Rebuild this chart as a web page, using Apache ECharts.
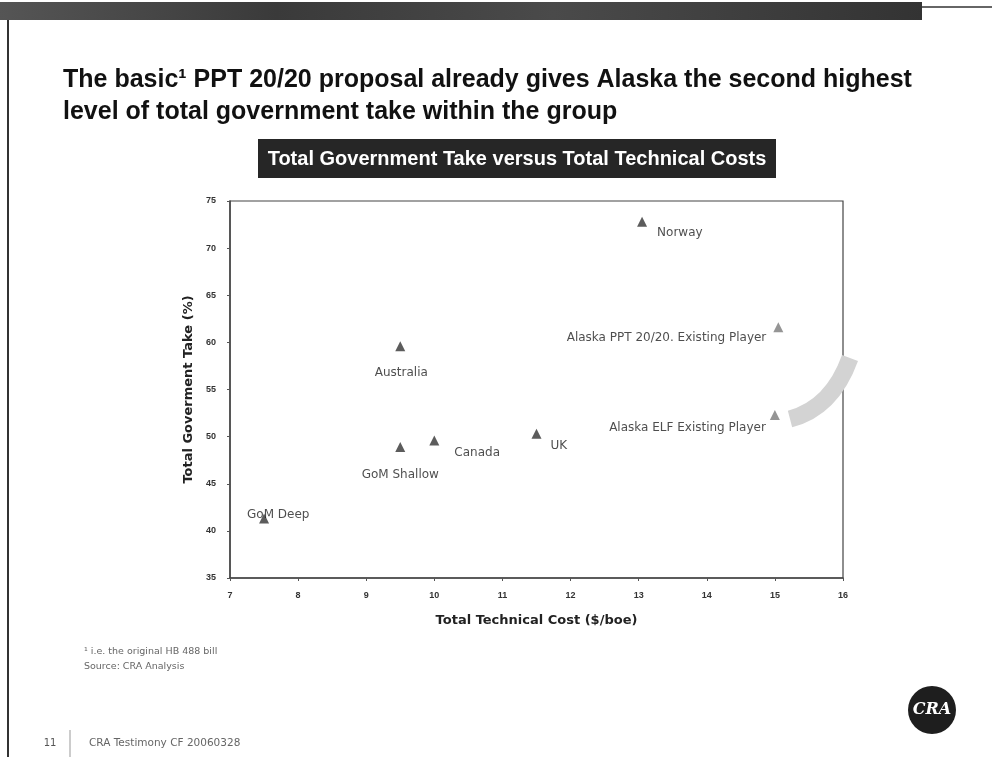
<!DOCTYPE html>
<html>
<head>
<meta charset="utf-8">
<script src="https://cdn.jsdelivr.net/npm/echarts@6/dist/echarts.min.js"></script>
<style>
  html, body { margin: 0; padding: 0; background: #fff; }
  #chart { width: 992px; height: 757px; }
</style>
</head>
<body>
<div id="chart"></div>
<script>
// ---- data ----
const names = ['Norway', 'Alaska PPT 20/20. Existing Player', 'Australia', 'Alaska ELF Existing Player', 'UK', 'Canada', 'GoM Shallow', 'GoM Deep'];
const cost = [13.05, 15.05, 9.5, 15, 11.5, 10, 9.5, 7.5];
const take = [72.8, 61.6, 59.6, 52.3, 50.3, 49.6, 48.9, 41.3];
const xTicks = [7, 8, 9, 10, 11, 12, 13, 14, 15, 16];
const yTicks = [35, 40, 45, 50, 55, 60, 65, 70, 75];

// ---- label placement (style, not data) ----
const labelPlace = {
  'Norway': { align: 'left', offset: [15, 11] },
  'Alaska PPT 20/20. Existing Player': { align: 'right', offset: [-12, 11] },
  'Australia': { align: 'center', offset: [1, 27] },
  'Alaska ELF Existing Player': { align: 'right', offset: [-9, 13] },
  'UK': { align: 'left', offset: [14, 12] },
  'Canada': { align: 'left', offset: [20, 12] },
  'GoM Shallow': { align: 'center', offset: [0, 28] },
  'GoM Deep': { align: 'left', offset: [-17, -4] }
};
const lightPts = { 'Alaska PPT 20/20. Existing Player': 1, 'Alaska ELF Existing Player': 1 };
const font = 'Liberation Sans, Arial, sans-serif';
const wide = 'DejaVu Sans, Verdana, sans-serif';

const points = names.map((n, i) => ({
  name: n,
  value: [cost[i], take[i]],
  itemStyle: { color: lightPts[n] ? '#7a7a7a' : '#333' },
  label: {
    show: true,
    position: 'inside',
    formatter: n,
    align: labelPlace[n].align,
    verticalAlign: 'middle',
    offset: labelPlace[n].offset,
    color: '#222',
    fontSize: 12,
    fontFamily: wide
  }
}));

const chart = echarts.init(document.getElementById('chart'));

chart.setOption({
  animation: false,
  backgroundColor: '#fff',
  grid: { left: 230, right: 149, top: 201, bottom: 179, show: true, borderColor: '#444', borderWidth: 1.2, containLabel: false },
  xAxis: {
    type: 'value', min: xTicks[0], max: xTicks[xTicks.length - 1], interval: 1,
    name: 'Total Technical Cost ($/boe)', nameLocation: 'middle', nameGap: 36,
    nameTextStyle: { fontFamily: wide, fontWeight: 'bold', fontSize: 13, color: '#222' },
    axisLine: { show: true, lineStyle: { color: '#444', width: 1.5 } },
    axisTick: { show: true, length: 3, lineStyle: { color: '#555' } },
    axisLabel: { fontFamily: font, fontSize: 9, fontWeight: 'bold', color: '#333', margin: 13 },
    splitLine: { show: false }
  },
  yAxis: {
    type: 'value', min: yTicks[0], max: yTicks[yTicks.length - 1], interval: 5,
    name: 'Total Goverment Take (%)', nameLocation: 'middle', nameGap: 33,
    nameTextStyle: { fontFamily: wide, fontWeight: 'bold', fontSize: 13, color: '#222' },
    axisLine: { show: true, lineStyle: { color: '#444', width: 1.5 } },
    axisTick: { show: true, length: 3, lineStyle: { color: '#555' } },
    axisLabel: { fontFamily: font, fontSize: 9, fontWeight: 'bold', color: '#333', margin: 14 },
    splitLine: { show: false }
  },
  series: [{
    type: 'scatter',
    symbol: 'triangle',
    symbolSize: [10, 10],
    data: points,
    z: 5
  }],
  graphic: [
    { type: 'rect', shape: { x: 0, y: 2, width: 922, height: 18 },
      style: { fill: new echarts.graphic.LinearGradient(0, 0, 1, 0, [
        { offset: 0, color: '#555' }, { offset: 0.3, color: '#3a3a3a' }, { offset: 0.6, color: '#4a4a4a' }, { offset: 1, color: '#333' }]) }, z: 1 },
    { type: 'line', shape: { x1: 922, y1: 7, x2: 992, y2: 7 }, style: { stroke: '#333', lineWidth: 1.5 } },
    { type: 'line', shape: { x1: 8, y1: 20, x2: 8, y2: 757 }, style: { stroke: '#333', lineWidth: 2 } },
    { type: 'text', x: 63, y: 68, style: { text: 'The basic\u00b9 PPT 20/20 proposal already gives Alaska the second highest', font: 'bold 25px Liberation Sans, Arial, sans-serif', fill: '#111' } },
    { type: 'text', x: 63, y: 100, style: { text: 'level of total government take within the group', font: 'bold 25px Liberation Sans, Arial, sans-serif', fill: '#111' } },
    { type: 'rect', shape: { x: 258, y: 139, width: 518, height: 39 }, style: { fill: '#262626' } },
    { type: 'text', x: 517, y: 159, style: { text: 'Total Government Take versus Total Technical Costs', font: 'bold 20px Liberation Sans, Arial, sans-serif', fill: '#fff', align: 'center', verticalAlign: 'middle' } },
    { type: 'bezierCurve', shape: { x1: 790, y1: 419, cpx1: 832, cpy1: 408, x2: 850, y2: 358 },
      style: { stroke: '#d3d3d3', lineWidth: 17, fill: null }, z: 2 },
    { type: 'text', x: 84, y: 652, style: { text: '\u00b9 i.e. the original HB 488 bill', font: '9.5px DejaVu Sans, sans-serif', fill: '#666', verticalAlign: 'middle' } },
    { type: 'text', x: 84, y: 667, style: { text: 'Source: CRA Analysis', font: '9.5px DejaVu Sans, sans-serif', fill: '#666', verticalAlign: 'middle' } },
    { type: 'text', x: 50, y: 743, style: { text: '11', font: '10px DejaVu Sans, sans-serif', fill: '#555', align: 'center', verticalAlign: 'middle' } },
    { type: 'line', shape: { x1: 70, y1: 730, x2: 70, y2: 757 }, style: { stroke: '#999', lineWidth: 1 } },
    { type: 'text', x: 89, y: 743, style: { text: 'CRA Testimony CF 20060328', font: '10.5px DejaVu Sans, sans-serif', fill: '#666', verticalAlign: 'middle' } },
    { type: 'circle', shape: { cx: 932, cy: 710, r: 24 }, style: { fill: '#1e1e1e' } },
    { type: 'text', x: 932, y: 710, style: { text: 'CRA', font: 'italic bold 16px DejaVu Serif, serif', fill: '#fff', align: 'center', verticalAlign: 'middle' } }
  ]
});
</script>
</body>
</html>
